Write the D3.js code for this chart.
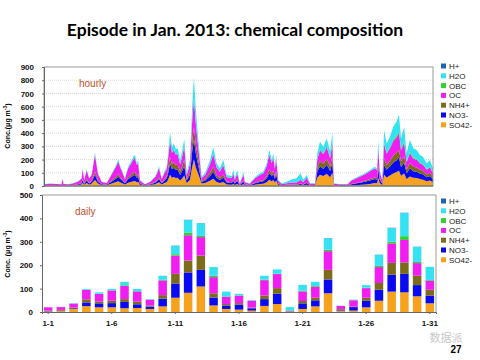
<!DOCTYPE html>
<html>
<head>
<meta charset="utf-8">
<script src="https://cdn.jsdelivr.net/npm/d3@7"></script>
<style>
body { margin: 0; background: #fff; }
text { font-family: "Liberation Sans", Arial, sans-serif; }
</style>
</head>
<body>
<div id="chart"></div>
<script>
// species, bottom of the stack first
const species = ['SO42-', 'NO3-', 'NH4+', 'OC', 'OBC', 'H2O', 'H+'];
const speciesColor = ['#f7a21e', '#0a0af0', '#7d6b1c', '#f01ef0', '#2fd02f', '#34e2f2', '#1f64b4'];

// hourly panel: time in days since Jan 1 00:00
const hourT   = [0,0.5,1,1.4,1.49,1.55,2,2.3,2.7,3,3.08,3.2,3.4,3.6,3.8,4.06,4.3,4.6,5,5.4,5.7,5.92,6.1,6.45,6.7,6.9,7.12,7.25,7.4,7.5,7.65,8.05,8.45,8.85,9,9.16,9.38,9.6,9.78,9.9,10.04,10.2,10.35,10.5,10.65,10.85,11,11.18,11.37,11.63,11.82,11.95,12.1,12.3,12.56,12.83,13.05,13.23,13.49,13.76,14.02,14.29,14.56,14.95,15.1,15.2,15.4,15.6,15.9,16,16.4,16.8,17.2,17.47,17.75,17.95,18.15,18.27,18.4,18.5,18.67,18.94,19.34,19.73,20.13,20.45,20.66,20.93,21.2,21.6,21.78,21.99,22.26,22.53,22.7,22.8,22.98,23.1,23.5,24.2,24.5,25.05,25.58,25.97,26.37,26.55,26.64,26.75,26.96,27.1,27.3,27.57,27.83,28.1,28.29,28.45,28.7,28.9,29.16,29.43,29.7,29.96,30.2,30.5,30.76,30.94,31];
const hourSO4 = [2,3,2,2,6,2,3,4,8,12,25,9,22,10,18,45,18,6,5,18,28,35,26,11,25,30,35,38,28,32,8,3,7,14,20,28,12,22,30,50,85,62,68,60,62,42,56,80,22,45,150,200,140,88,18,22,32,40,55,30,22,30,12,10,16,8,15,3,14,4,3,10,15,17,28,48,35,45,26,42,8,3,4,5,5,8,5,10,3,3,62,85,75,92,76,66,100,3,2,2,5,8,12,16,22,20,60,22,8,85,65,80,95,105,115,78,95,52,72,62,60,52,48,36,42,32,30];
const hourNO3 = [1,1,1,1,4,1,1,2,4,8,20,6,20,8,14,40,15,5,4,16,25,35,26,9,28,35,45,46,34,38,8,2,5,10,15,24,9,20,28,50,85,65,70,62,60,42,55,72,20,40,120,150,105,66,14,18,28,36,52,30,24,35,14,13,22,10,22,3,20,6,3,10,16,18,30,50,38,48,28,46,8,2,3,4,4,7,5,12,3,3,46,62,55,68,56,48,75,2,2,2,8,14,20,26,30,27,65,25,9,75,58,68,82,90,100,66,80,44,62,50,48,42,40,30,34,26,25];
const hourNH4 = [1,1,1,1,2,1,1,1,2,5,12,4,12,5,8,25,9,3,2,9,14,18,13,5,14,17,22,22,16,19,4,1,3,6,9,14,5,11,16,30,50,38,42,36,38,26,34,48,12,26,75,95,68,42,8,11,18,24,36,20,16,22,8,6,9,4,9,1,8,2,1,5,8,9,16,28,20,26,15,24,4,1,2,2,2,3,2,5,1,1,32,44,38,46,38,33,52,1,1,1,3,5,7,10,13,12,35,12,4,48,36,42,52,56,60,42,50,28,40,33,32,28,27,21,24,18,17];
const hourOC  = [10,12,11,10,42,11,9,12,19,32,70,24,65,32,45,125,48,17,12,46,72,95,70,28,66,82,98,105,78,88,21,8,16,36,48,70,27,45,55,85,120,85,90,78,80,55,72,95,28,55,165,215,150,90,20,30,48,64,96,58,45,70,32,30,45,24,46,10,44,16,10,32,45,50,75,110,80,98,60,94,19,10,12,15,16,28,18,35,10,10,60,80,72,86,72,62,95,11,8,8,25,38,50,60,68,60,120,50,18,110,85,95,110,115,125,84,100,56,76,62,58,48,46,36,42,30,29];
const hourOBC = [0,0,0,0,1,0,0,0,0,1,2,0,2,1,1,3,1,0,0,1,2,2,2,1,2,2,3,3,2,2,0,0,0,1,1,2,1,2,2,5,8,5,6,5,5,4,5,7,2,4,9,10,9,6,1,2,3,4,5,3,3,4,2,1,2,1,2,0,2,0,0,1,2,2,3,4,3,4,2,3,1,0,0,0,1,1,0,1,0,0,5,6,5,6,5,4,7,0,0,0,0,1,1,1,2,1,4,1,1,10,7,8,10,12,14,9,12,6,9,7,7,6,5,4,5,4,4];
const hourH2O = [1,1,1,1,3,1,1,1,2,2,5,2,5,2,4,14,5,2,2,6,9,15,9,4,11,14,19,20,13,17,4,1,2,4,7,13,4,10,15,30,55,42,44,39,40,27,38,53,12,26,105,150,102,55,10,13,21,28,48,30,24,35,15,16,27,11,27,3,20,5,3,8,10,12,19,32,20,26,15,25,5,4,12,24,30,49,15,20,3,3,42,58,52,62,53,47,71,3,2,2,4,5,6,8,11,10,63,11,5,95,71,80,99,108,126,81,111,61,88,71,67,58,56,44,49,36,35];

// daily panel
const days = d3.range(1, 32).map(d => '1-' + d);
const dayTicks = ['1-1', '1-6', '1-11', '1-16', '1-21', '1-26', '1-31'];
const daySO4 = [3,5,13,25,20,20,16,17,13,24,61,82,109,28,13,10,6,26,34,2,13,24,80,6,6,20,48,87,84,67,37];
const dayNO3 = [2,2,3,16,17,18,27,16,10,33,61,87,71,34,15,21,10,29,44,1,24,26,59,4,15,28,47,72,79,48,33];
const dayNH4 = [1,2,3,13,8,10,12,11,5,15,41,51,61,18,6,7,3,15,24,1,10,11,41,3,2,13,29,51,49,40,25];
const dayOC  = [14,12,17,40,32,44,56,44,24,63,78,108,79,69,31,32,29,66,60,2,41,47,80,13,27,41,68,83,96,54,39];
const dayOBC = [0,0,0,1,1,1,3,1,1,3,6,12,5,6,2,1,1,2,2,0,3,3,6,0,1,2,5,7,16,5,3];
const dayH2O = [0,1,2,3,6,6,15,10,2,17,36,53,54,37,20,7,2,17,18,15,25,18,49,1,2,11,47,59,99,64,56];
const dayHp  = [0,0,0,0,0,0,0,0,0,0,1,1,1,0,0,0,0,0,0,0,0,0,1,0,0,0,1,1,1,1,0];

const hourTicks = d3.range(0, 901, 100);
const dailyTicks = d3.range(0, 501, 100);

const w = 480;
const h = 360;

const svg = d3.select('#chart')
  .append('svg')
  .attr('width', w)
  .attr('height', h);

svg.append('text')
  .attr('x', 235)
  .attr('y', 36)
  .attr('text-anchor', 'middle')
  .style('font-family', 'Lato, "Open Sans", sans-serif')
  .style('font-weight', 'bold')
  .style('font-size', '17.5px')
  .text('Episode in Jan. 2013: chemical composition');

const color = d3.scaleOrdinal().domain(species).range(speciesColor);

function legend(top) {
  const g = svg.append('g').attr('transform', 'translate(441,' + top + ')');
  species.slice().reverse().forEach((s, i) => {
    g.append('rect')
      .attr('x', 0).attr('y', i * 9.8 - 2.5)
      .attr('width', 5).attr('height', 5)
      .attr('fill', color(s));
    g.append('text')
      .attr('x', 8).attr('y', i * 9.8 + 3)
      .attr('font-size', 8)
      .attr('fill', '#222')
      .text(s);
  });
}

function yTitle(cx, cy) {
  const t = svg.append('text')
    .attr('transform', 'translate(' + cx + ',' + cy + ') rotate(-90)')
    .attr('text-anchor', 'middle')
    .attr('font-size', 7)
    .attr('font-weight', 'bold');
  return t;
}

// ---------- hourly ----------
const hourRows = hourT.map((t, i) => ({
  t: t,
  'SO42-': hourSO4[i], 'NO3-': hourNO3[i], 'NH4+': hourNH4[i],
  'OC': hourOC[i], 'OBC': hourOBC[i], 'H2O': hourH2O[i]
}));
const hourKeys = species.slice(0, 6);

const xH = d3.scaleLinear().domain([0, 31]).range([44, 433]);
const yH = d3.scaleLinear().domain([0, 900]).range([186, 67]);

svg.append('g')
  .selectAll('line')
  .data(hourTicks.filter(d => d > 0 && d < 900))
  .enter()
  .append('line')
  .attr('x1', 44).attr('x2', 433)
  .attr('y1', d => yH(d)).attr('y2', d => yH(d))
  .attr('stroke', '#d8d8d8')
  .attr('stroke-dasharray', '1,1');

const hourStack = d3.stack().keys(hourKeys)(hourRows);
const area = d3.area()
  .x(d => xH(d.data.t))
  .y0(d => yH(d[0]))
  .y1(d => yH(d[1]));

svg.append('g')
  .selectAll('path')
  .data(hourStack)
  .enter()
  .append('path')
  .attr('d', area)
  .attr('fill', d => color(d.key));

svg.append('rect')
  .attr('x', 44).attr('y', 67)
  .attr('width', 433 - 44).attr('height', 186 - 67)
  .attr('fill', 'none')
  .attr('stroke', '#9a9a9a');

svg.append('g')
  .attr('transform', 'translate(44,0)')
  .call(d3.axisLeft(yH).tickValues(hourTicks).tickSize(2).tickPadding(8))
  .call(g => g.select('.domain').attr('stroke', '#666'))
  .call(g => g.selectAll('.tick line').attr('stroke', '#666'))
  .call(g => g.selectAll('text').attr('font-size', 8).attr('font-weight', 'bold').attr('fill', '#111')
    .style('font-family', '"Liberation Sans", Arial, sans-serif'));

svg.append('line')
  .attr('x1', 44).attr('x2', 433)
  .attr('y1', 186).attr('y2', 186)
  .attr('stroke', '#666');

svg.append('text')
  .attr('x', 79).attr('y', 87)
  .attr('font-size', 10)
  .attr('fill', '#c0502a')
  .text('hourly');

yTitle(10, 126).html('Conc.(μg m<tspan dy="-3" font-size="5">-3</tspan><tspan dy="3">)</tspan>');

legend(66);

// ---------- daily ----------
const dayRows = days.map((d, i) => ({
  day: d,
  'SO42-': daySO4[i], 'NO3-': dayNO3[i], 'NH4+': dayNH4[i],
  'OC': dayOC[i], 'OBC': dayOBC[i], 'H2O': dayH2O[i], 'H+': dayHp[i]
}));

const xD = d3.scaleBand()
  .domain(days)
  .range([42, 436])
  .paddingInner(0.33)
  .paddingOuter(0.15);
const yD = d3.scaleLinear().domain([0, 500]).range([312, 195]);

const dayStack = d3.stack().keys(species)(dayRows);

svg.append('g')
  .selectAll('g')
  .data(dayStack)
  .enter()
  .append('g')
  .attr('fill', d => color(d.key))
  .selectAll('rect')
  .data(d => d)
  .enter()
  .append('rect')
  .attr('x', d => xD(d.data.day))
  .attr('y', d => yD(d[1]))
  .attr('width', xD.bandwidth())
  .attr('height', d => yD(d[0]) - yD(d[1]));

svg.append('path')
  .attr('d', 'M42,195H436V312')
  .attr('fill', 'none')
  .attr('stroke', '#9a9a9a');

svg.append('g')
  .attr('transform', 'translate(42,0)')
  .call(d3.axisLeft(yD).tickValues(dailyTicks).tickSize(2).tickPadding(7))
  .call(g => g.select('.domain').attr('stroke', '#666'))
  .call(g => g.selectAll('.tick line').attr('stroke', '#666'))
  .call(g => g.selectAll('text').attr('font-size', 8).attr('font-weight', 'bold').attr('fill', '#111')
    .style('font-family', '"Liberation Sans", Arial, sans-serif'));

svg.append('g')
  .attr('transform', 'translate(0,312)')
  .call(d3.axisBottom(xD).tickValues(dayTicks).tickSize(2).tickPadding(6))
  .call(g => g.select('.domain').attr('stroke', '#666'))
  .call(g => g.selectAll('.tick line').attr('stroke', '#666'))
  .call(g => g.selectAll('text').attr('font-size', 8).attr('font-weight', 'bold').attr('fill', '#111')
    .style('font-family', '"Liberation Sans", Arial, sans-serif'));

svg.append('text')
  .attr('x', 75).attr('y', 215)
  .attr('font-size', 10)
  .attr('fill', '#c0502a')
  .text('daily');

yTitle(10, 254).html('Conc. (μg m<tspan dy="-3" font-size="5">-3</tspan><tspan dy="3">)</tspan>');

legend(201);

// page footer
svg.append('text')
  .attr('x', 446).attr('y', 342)
  .attr('text-anchor', 'middle')
  .attr('font-size', 11)
  .attr('fill', '#c8c8c8')
  .style('font-family', '"Noto Sans CJK SC", sans-serif')
  .text('数据派');

svg.append('text')
  .attr('x', 456).attr('y', 353)
  .attr('text-anchor', 'middle')
  .attr('font-size', 10)
  .attr('font-weight', 'bold')
  .text('27');
</script>
</body>
</html>
